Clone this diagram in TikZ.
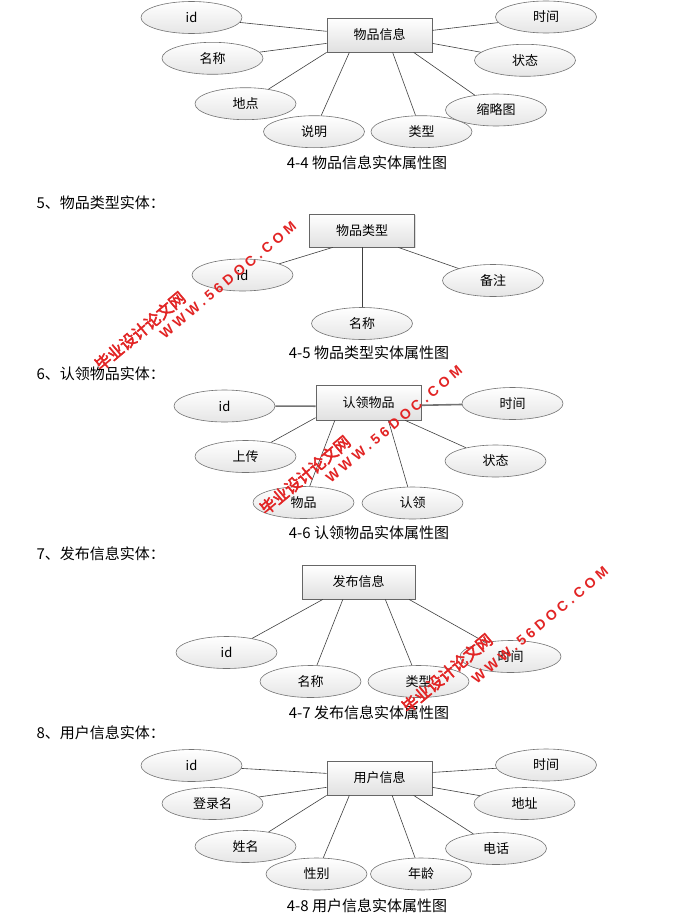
\documentclass[tikz,border=0pt]{standalone}
\usepackage{fontspec}
\setmainfont{Noto Sans CJK SC}
\newfontfamily\wmcjk{Noto Sans CJK SC}[FakeBold=3]
\newfontfamily\wmlat{Liberation Sans}[LetterSpace=28]
\usetikzlibrary{shapes.geometric,shadows}
\definecolor{wmred}{RGB}{226,36,36}
\begin{document}
\begin{tikzpicture}[x=1pt,y=-1pt,
  ent/.style={draw=black!60, line width=0.8pt, top color=white, bottom color=black!12,
    minimum width=105pt, minimum height=34pt, inner sep=0pt,
    font=\fontsize{13}{15}\selectfont,
    drop shadow={shadow xshift=1.2pt,shadow yshift=-1.2pt,opacity=0.25}},
  attr/.style={ellipse, draw=black!55, line width=0.6pt, top color=white, bottom color=black!10,
    minimum width=101pt, minimum height=32pt, inner sep=0pt,
    font=\fontsize{13}{15}\selectfont},
  link/.style={draw=black!75, line width=0.6pt},
  thicklink/.style={draw=black!55, line width=1.6pt},
  captxt/.style={font=\fontsize{15}{17}\selectfont},
  head/.style={anchor=west, font=\fontsize{15}{17}\selectfont},
  wmc/.style={text=wmred, rotate=40, font=\wmcjk\fontsize{16}{18}\selectfont},
  wml/.style={text=wmred, rotate=40, font=\wmlat\bfseries\fontsize{14}{16}\selectfont}
]
\fill[white] (0,0) rectangle (694,918);
\useasboundingbox (0,0) rectangle (694,918);

% ---------- 4-4 ----------
\node[ent] (A) at (379.5,35) {物品信息};
\node[attr] (A1) at (191.5,17.5) {id};
\node[attr] (A2) at (212.5,58.3) {名称};
\node[attr] (A3) at (245.5,103.7) {地点};
\node[attr] (A4) at (314,131.7) {说明};
\node[attr] (A5) at (421.5,131.7) {类型};
\node[attr] (A6) at (496,110) {缩略图};
\node[attr] (A7) at (525,60.3) {状态};
\node[attr] (A8) at (546,17) {时间};
\draw[link] (A.176) -- (A1);
\draw[link] (A.189) -- (A2);
\draw[link] (A.south west) -- (A3);
\draw[link] (A.210) -- (A4);
\draw[link] (A.307) -- (A5);
\draw[link] (A.333) -- (A6);
\draw[link] (A.351) -- (A7);
\draw[link] (A.5) -- (A8);
\node[captxt] (C1) at (367,163) {4-4 物品信息实体属性图};

% ---------- 4-5 ----------
\node[head] (H5) at (33,203) {5、物品类型实体：};
\node[ent, minimum height=33pt] (B) at (362,230.5) {物品类型};
\node[attr] (B1) at (242.5,275) {id};
\node[attr] (B2) at (362,323.5) {名称};
\node[attr] (B3) at (493,280.5) {备注};
\draw[link] (B.210) -- (B1);
\draw[link] (B.south) -- (B2);
\draw[link] (B.335) -- (B3);
\node[captxt] (C2) at (369,353) {4-5 物品类型实体属性图};

% ---------- 4-6 ----------
\node[head] (H6) at (33,374) {6、认领物品实体：};
\node[ent, minimum height=35pt] (D) at (368.5,402.5) {认领物品};
\node[attr] (D1) at (224.5,406) {id};
\node[attr] (D2) at (512.5,403.5) {时间};
\node[attr] (D3) at (245.5,456.5) {上传};
\node[attr] (D4) at (495.5,461) {状态};
\node[attr] (D5) at (303.5,502.5) {物品};
\node[attr] (D6) at (412.5,503) {认领};
\draw[thicklink] (D.184) -- (D1);
\draw[thicklink] (D.357) -- (D2);
\draw[link] (D.196) -- (D3);
\draw[link] (D.208) -- (D5);
\draw[link] (D.318) -- (D6);
\draw[link] (D.334) -- (D4);
\node[captxt] (C3) at (369,533) {4-6 认领物品实体属性图};

% ---------- 4-7 ----------
\node[head] (H7) at (33,554) {7、发布信息实体：};
\node[ent, minimum width=113pt] (E) at (358.5,582) {发布信息};
\node[attr] (E1) at (226.5,652.5) {id};
\node[attr] (E2) at (310.5,681.5) {名称};
\node[attr] (E3) at (418.5,681.5) {类型};
\node[attr] (E4) at (510.5,656.5) {时间};
\draw[link] (E.206) -- (E1);
\draw[link] (E.228) -- (E2);
\draw[link] (E.327) -- (E3);
\draw[link] (E.341) -- (E4);
\node[captxt] (C4) at (369,713) {4-7 发布信息实体属性图};

% ---------- 4-8 ----------
\node[head] (H8) at (33,733) {8、用户信息实体：};
\node[ent] (F) at (379.5,778) {用户信息};
\node[attr] (F1) at (191.5,765.5) {id};
\node[attr] (F2) at (212.5,803.5) {登录名};
\node[attr] (F3) at (245.5,846.5) {姓名};
\node[attr] (F4) at (316.5,874) {性别};
\node[attr] (F5) at (421,874) {年龄};
\node[attr] (F6) at (496,848.5) {电话};
\node[attr] (F7) at (524.5,803.5) {地址};
\node[attr] (F8) at (546,765) {时间};
\draw[link] (F.175) -- (F1);
\draw[link] (F.190) -- (F2);
\draw[link] (F.south west) -- (F3);
\draw[link] (F.210) -- (F4);
\draw[link] (F.306) -- (F5);
\draw[link] (F.333) -- (F6);
\draw[link] (F.350) -- (F7);
\draw[link] (F.6) -- (F8);
\node[captxt] (C5) at (367,906) {4-8 用户信息实体属性图};

% ---------- watermarks ----------
\node[wmc] (W1a) at (140,331) {毕业设计论文网};
\node[wml] (W1b) at (228,280) {WWW.56DOC.COM};
\node[wmc] (W2a) at (305,475) {毕业设计论文网};
\node[wml] (W2b) at (394,424) {WWW.56DOC.COM};
\node[wmc] (W3a) at (447,673) {毕业设计论文网};
\node[wml] (W3b) at (540,625) {WWW.56DOC.COM};
\end{tikzpicture}
\end{document}
